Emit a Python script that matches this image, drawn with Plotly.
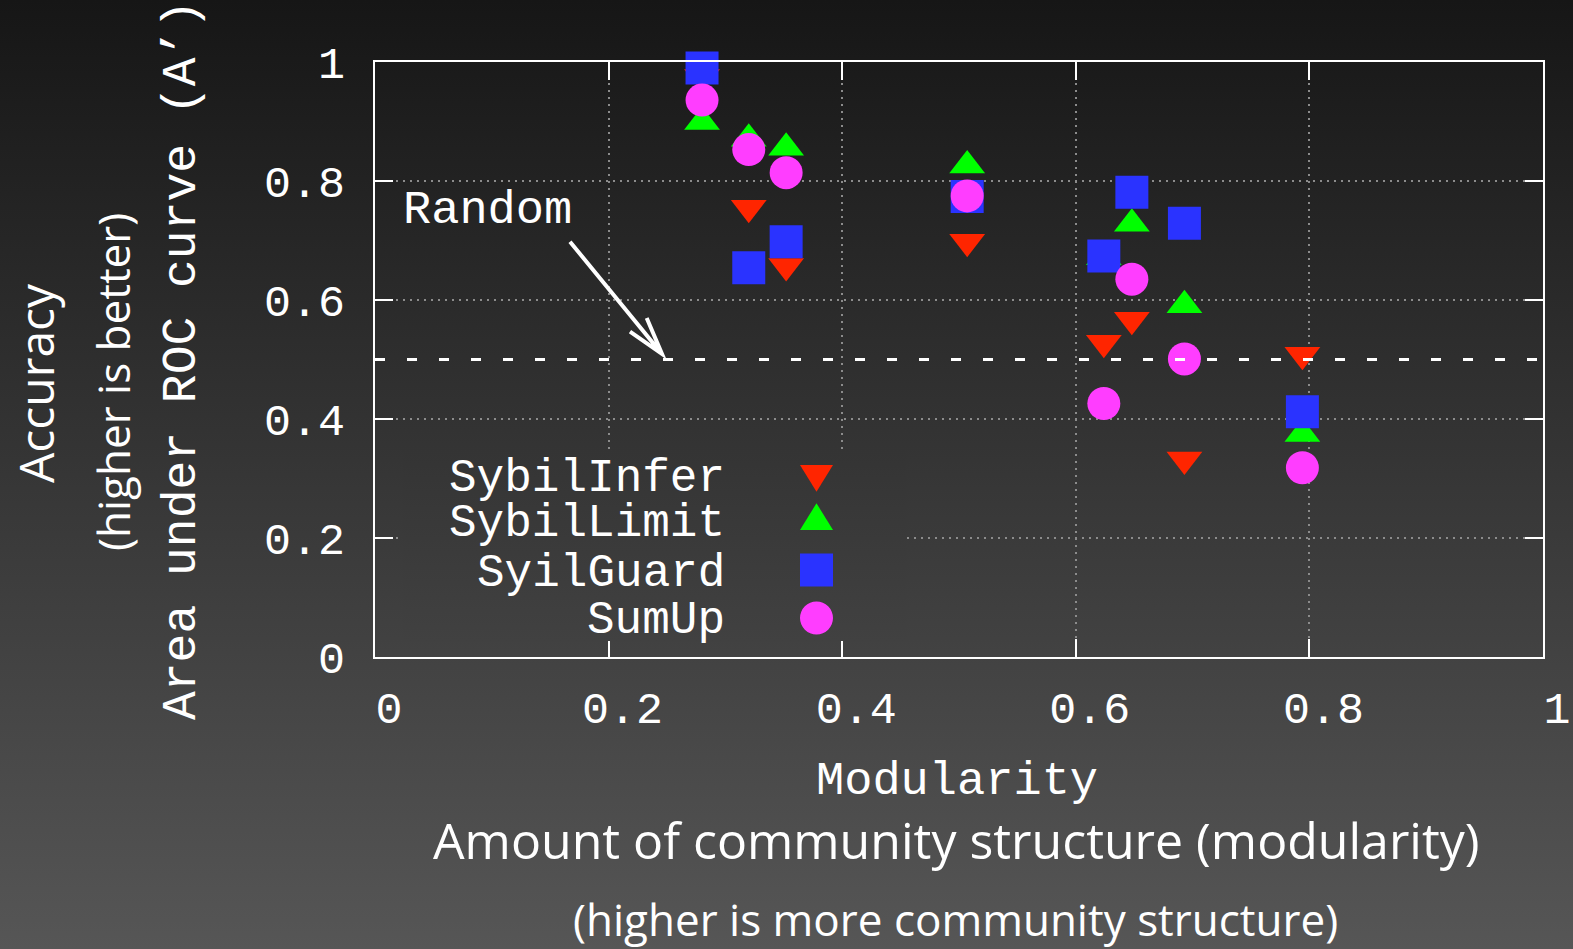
import base64
import plotly.graph_objects as go

# ---------------- data ----------------
modularity = [0.280, 0.320, 0.352, 0.507, 0.624, 0.648, 0.693, 0.794]
sybilinfer = [0.975, 0.755, 0.657, 0.698, 0.528, 0.567, 0.332, 0.508]
sybillimit = [0.899, 0.871, 0.856, 0.826, 0.672, 0.728, 0.591, 0.375]
sybilguard = [0.990, 0.654, 0.698, 0.774, 0.674, 0.781, 0.729, 0.412]
sumup = [0.936, 0.853, 0.814, 0.775, 0.426, 0.635, 0.501, 0.318]
random_x = [0, 1]
random_y = [0.5, 0.5]
tick_vals = [0, 0.2, 0.4, 0.6, 0.8, 1]
tick_text = ["0", "0.2", "0.4", "0.6", "0.8", "1"]
series_names = ["SybilInfer", "SybilLimit", "SyilGuard", "SumUp"]

# ---------------- layout geometry ----------------
W, H = 1573, 949
L, R, T, B = 375, 1543, 62, 657
PW, PH = R - L, B - T

def px(x, y):
    return (x - L) / PW, (B - y) / PH

def grey(y):
    v = int(round(22 + 0.0675 * y))
    return "#%02x%02x%02x" % (v, v, v)

def grad_svg(w, h, c0, c1):
    s = ('<svg xmlns="http://www.w3.org/2000/svg" width="%d" height="%d" viewBox="0 0 %d %d" '
         'preserveAspectRatio="none"><defs><linearGradient id="g" x1="0" y1="0" x2="0" y2="1">'
         '<stop offset="0" stop-color="%s"/><stop offset="1" stop-color="%s"/></linearGradient></defs>'
         '<rect x="0" y="0" width="%d" height="%d" fill="url(#g)"/></svg>') % (w, h, w, h, c0, c1, w, h)
    return "data:image/svg+xml;base64," + base64.b64encode(s.encode()).decode()

MONO = "Liberation Mono, Courier New, monospace"
SANS = "Open Sans, Noto Sans, sans-serif"

RED, GREEN, BLUE, MAG = "#ff2500", "#00ff00", "#2a33ff", "#ff3dff"

fig = go.Figure()
common = dict(mode="markers", cliponaxis=False, showlegend=False, hoverinfo="x+y")
fig.add_trace(go.Scatter(x=modularity, y=sybilinfer, name=series_names[0],
                         marker=dict(symbol="triangle-down", size=31, color=RED, line=dict(width=0)), **common))
fig.add_trace(go.Scatter(x=modularity, y=sybillimit, name=series_names[1],
                         marker=dict(symbol="triangle-up", size=31, color=GREEN, line=dict(width=0)), **common))
fig.add_trace(go.Scatter(x=modularity, y=sybilguard, name=series_names[2],
                         marker=dict(symbol="square", size=33, color=BLUE, line=dict(width=0)), **common))
fig.add_trace(go.Scatter(x=modularity, y=sumup, name=series_names[3],
                         marker=dict(symbol="circle", size=33, color=MAG, line=dict(width=0)), **common))
fig.add_trace(go.Scatter(x=random_x, y=random_y, mode="lines", showlegend=False, hoverinfo="skip",
                         line=dict(color="white", width=3, dash="10px,22px")))

# ---------------- images (background gradient + legend mask) ----------------
images = []
x0p, y0p = px(0, 0)
images.append(dict(source=grad_svg(W, H, grey(0), grey(H)), xref="paper", yref="paper",
                   x=x0p, y=y0p, sizex=W / PW, sizey=H / PH, xanchor="left", yanchor="top",
                   sizing="stretch", layer="below"))
mx0, my0, mx1, my1 = 403, 449, 906, 641
a, b = px(mx0, my0)
images.append(dict(source=grad_svg(mx1 - mx0, my1 - my0, grey(my0), grey(my1)), xref="paper", yref="paper",
                   x=a, y=b, sizex=(mx1 - mx0) / PW, sizey=(my1 - my0) / PH, xanchor="left", yanchor="top",
                   sizing="stretch", layer="above"))

# ---------------- shapes (legend keys, arrow) ----------------
def path(points, close=True):
    s = ""
    for i, (x, y) in enumerate(points):
        X, Y = px(x, y)
        s += ("M" if i == 0 else "L") + "%.5f,%.5f " % (X, Y)
    return s + ("Z" if close else "")

shapes = []
shapes.append(dict(type="path", xref="paper", yref="paper", layer="above", line=dict(width=0),
                   fillcolor=RED, path=path([(800, 465), (833, 465), (816.5, 491.7)])))
shapes.append(dict(type="path", xref="paper", yref="paper", layer="above", line=dict(width=0),
                   fillcolor=GREEN, path=path([(800, 530), (833, 530), (816.5, 503.3)])))
a0, b0 = px(800, 553.5)
a1, b1 = px(833, 586.5)
shapes.append(dict(type="rect", xref="paper", yref="paper", layer="above", line=dict(width=0),
                   fillcolor=BLUE, x0=a0, x1=a1, y0=b1, y1=b0))
a0, b0 = px(800, 601.5)
a1, b1 = px(833, 634.5)
shapes.append(dict(type="circle", xref="paper", yref="paper", layer="above", line=dict(width=0),
                   fillcolor=MAG, x0=a0, x1=a1, y0=b1, y1=b0))
# arrow
shapes.append(dict(type="path", xref="paper", yref="paper", layer="above",
                   line=dict(color="white", width=4),
                   path=path([(570, 241.7), (662, 354)], close=False) + " " +
                        path([(630, 331.7), (662, 354), (646.7, 318)], close=False)))

# ---------------- annotations ----------------
ann = []
def text(t, x, y, size, font=MONO, angle=0, xanchor="center"):
    X, Y = px(x, y)
    ann.append(dict(text=t, x=X, y=Y, xref="paper", yref="paper", showarrow=False,
                    xanchor=xanchor, yanchor="middle", textangle=angle,
                    font=dict(family=font, size=size, color="white")))

text("Modularity", 957, 781, 47)
text("Amount of community structure (modularity)", 956, 840, 50, SANS)
text("(higher is more community structure)", 955, 919, 44, SANS)
text("Area under ROC curve (A’)", 182, 360, 48, angle=-90)
text("(higher is better)", 113, 382, 44, SANS, angle=-90)
text("Accuracy", 35, 383, 48, SANS, angle=-90)
text("Random", 487, 210, 47)
for name, yy in zip(series_names, [479, 524, 574, 621]):
    text(name, 727, yy, 46, xanchor="right")

def axis(standoff, **kw):
    return dict(range=[0, 1], tickvals=tick_vals, ticktext=tick_text, automargin=False,
                showline=True, linecolor="white", linewidth=2, mirror="ticks",
                ticks="inside", ticklen=18, tickwidth=2, tickcolor="white",
                showgrid=True, gridcolor="#8c8c8c", gridwidth=1.5, griddash="2px,5px",
                zeroline=False, tickfont=dict(family=MONO, size=45, color="white"),
                ticklabelstandoff=standoff, fixedrange=True, **kw)

fig.update_layout(
    width=W, height=H, autosize=False,
    margin=dict(l=L, r=W - R, t=T, b=H - B, pad=0),
    paper_bgcolor=grey(470), plot_bgcolor="rgba(0,0,0,0)",
    xaxis=axis(10, ticklabelshift=14),
    yaxis=axis(19),
    images=images, shapes=shapes, annotations=ann,
)

fig.write_html("out.html", config={"responsive": False, "displayModeBar": False},
               post_script="document.body.style.margin='0';document.body.style.overflow='hidden';")
